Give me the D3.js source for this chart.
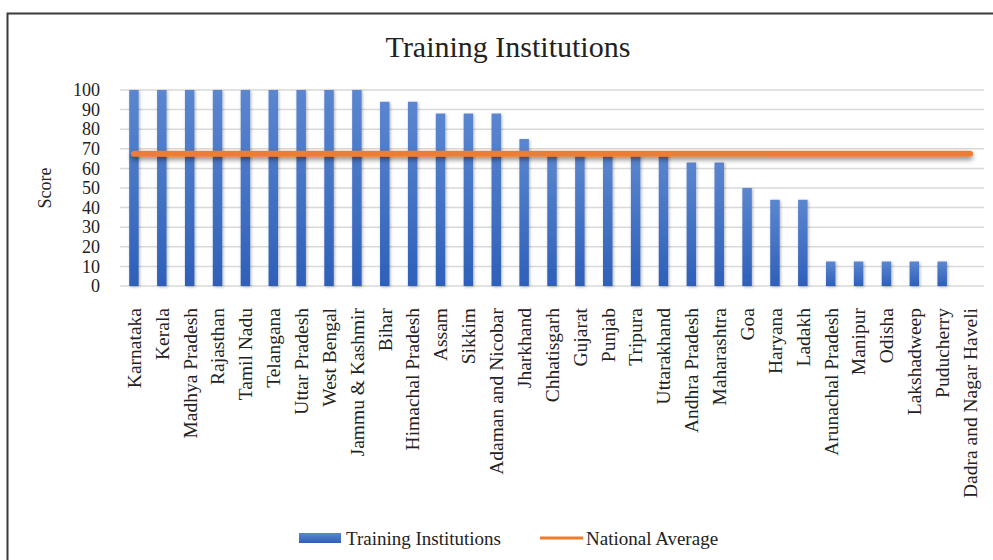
<!DOCTYPE html>
<html>
<head>
  <script src="https://d3js.org/d3.v7.min.js"></script>
  <style>
    body { margin: 0; background: #fff; }
    svg { display: block; font-family: "Liberation Serif", "Times New Roman", serif; }
  </style>
</head>
<body>
  <svg id="chart" width="993" height="560"></svg>
  <script>
  // states / UTs in the order shown
  const states = [
    'Karnataka', 'Kerala', 'Madhya Pradesh', 'Rajasthan', 'Tamil Nadu', 'Telangana',
    'Uttar Pradesh', 'West Bengal', 'Jammu & Kashmir', 'Bihar', 'Himachal Pradesh',
    'Assam', 'Sikkim', 'Adaman and Nicobar', 'Jharkhand', 'Chhatisgarh', 'Gujarat',
    'Punjab', 'Tripura', 'Uttarakhand', 'Andhra Pradesh', 'Maharashtra', 'Goa',
    'Haryana', 'Ladakh', 'Arunachal Pradesh', 'Manipur', 'Odisha', 'Lakshadweep',
    'Puducherry', 'Dadra and Nagar Haveli'
  ];
  const trainingScores = [
    100, 100, 100, 100, 100, 100, 100, 100, 100, 94, 94,
    88, 88, 88, 75, 68, 68, 68, 68, 68, 63, 63, 50,
    44, 44, 12.5, 12.5, 12.5, 12.5, 12.5, 0
  ];
  const nationalAverage = 67.5;
  const yTicks = [0, 10, 20, 30, 40, 50, 60, 70, 80, 90, 100];

  const svg = d3.select('#chart');
  const plot = { left: 120, right: 984, top: 90, bottom: 286 };

  const x = d3.scaleBand()
    .domain(states)
    .range([plot.left, plot.right])
    .paddingInner(0.66)
    .paddingOuter(0.33);
  const y = d3.scaleLinear().domain([0, 100]).range([plot.bottom, plot.top]);

  const defs = svg.append('defs');
  const grad = defs.append('linearGradient')
    .attr('id', 'barGrad').attr('x1', 0).attr('y1', 0).attr('x2', 0).attr('y2', 1);
  grad.append('stop').attr('offset', '0%').attr('stop-color', '#5b86d0');
  grad.append('stop').attr('offset', '100%').attr('stop-color', '#2e60b9');

  const barShadow = defs.append('filter').attr('id', 'barShadow')
    .attr('x', '-50%').attr('y', '-10%').attr('width', '200%').attr('height', '130%');
  barShadow.append('feDropShadow')
    .attr('dx', 1).attr('dy', 1).attr('stdDeviation', 1.5)
    .attr('flood-color', '#000').attr('flood-opacity', 0.3);

  // horizontal path has a zero-height bbox, so give the filter a user-space region
  const lineShadow = defs.append('filter').attr('id', 'lineShadow')
    .attr('filterUnits', 'userSpaceOnUse')
    .attr('x', 0).attr('y', 0).attr('width', 993).attr('height', 560);
  lineShadow.append('feDropShadow')
    .attr('dx', 0).attr('dy', 3).attr('stdDeviation', 2.5)
    .attr('flood-color', '#000').attr('flood-opacity', 0.45);

  // outer frame (right and bottom edges run off the page)
  svg.append('rect')
    .attr('x', 7.5).attr('y', 13.5).attr('width', 1100).attr('height', 700)
    .attr('fill', 'none').attr('stroke', '#3a3a3a').attr('stroke-width', 2);

  // title
  svg.append('text')
    .attr('x', 508).attr('y', 57)
    .attr('text-anchor', 'middle')
    .attr('font-size', 30)
    .attr('fill', '#222')
    .text('Training Institutions');

  // gridlines
  svg.append('g').selectAll('line')
    .data(yTicks)
    .join('line')
    .attr('x1', plot.left).attr('x2', plot.right)
    .attr('y1', d => y(d)).attr('y2', d => y(d))
    .attr('stroke', '#d9d9d9').attr('stroke-width', 1.5);

  // y axis labels
  const yAxis = svg.append('g')
    .attr('transform', `translate(${plot.left - 20},0)`)
    .call(d3.axisLeft(y).tickValues(yTicks).tickSize(0).tickPadding(0));
  yAxis.select('.domain').remove();
  yAxis.selectAll('text')
    .attr('font-family', '"Liberation Serif", serif')
    .attr('font-size', 18)
    .attr('fill', '#222');

  svg.append('text')
    .attr('transform', `translate(51,${(plot.top + plot.bottom) / 2}) rotate(-90)`)
    .attr('text-anchor', 'middle')
    .attr('font-size', 18)
    .attr('fill', '#222')
    .text('Score');

  // bars
  svg.append('g').selectAll('rect')
    .data(states)
    .join('rect')
    .attr('x', d => x(d))
    .attr('width', x.bandwidth())
    .attr('y', (d, i) => y(trainingScores[i]))
    .attr('height', (d, i) => y(0) - y(trainingScores[i]))
    .attr('fill', 'url(#barGrad)')
    .attr('filter', 'url(#barShadow)');

  // national average line
  const avgLine = d3.line()
    .x(d => x(d) + x.bandwidth() / 2)
    .y(() => y(nationalAverage));
  svg.append('path')
    .datum(states)
    .attr('d', avgLine)
    .attr('fill', 'none')
    .attr('stroke', '#ed7d31')
    .attr('stroke-width', 6)
    .attr('stroke-linecap', 'round')
    .attr('filter', 'url(#lineShadow)');

  // x axis labels, rotated
  const xAxis = svg.append('g')
    .attr('transform', `translate(0,${plot.bottom + 22})`)
    .call(d3.axisBottom(x).tickSize(0).tickPadding(0));
  xAxis.select('.domain').remove();
  xAxis.selectAll('text')
    .attr('font-family', '"Liberation Serif", serif')
    .attr('font-size', 19.5)
    .attr('fill', '#222')
    .attr('text-anchor', 'end')
    .attr('dy', '0.35em')
    .attr('transform', 'rotate(-90)');

  // legend
  const legend = svg.append('g').attr('font-size', 19).attr('fill', '#222');
  legend.append('rect')
    .attr('x', 299).attr('y', 533).attr('width', 42).attr('height', 10)
    .attr('fill', 'url(#barGrad)');
  legend.append('text').attr('x', 346).attr('y', 545).text('Training Institutions');
  legend.append('line')
    .attr('x1', 540).attr('x2', 583).attr('y1', 538).attr('y2', 538)
    .attr('stroke', '#ed7d31').attr('stroke-width', 3);
  legend.append('text').attr('x', 586).attr('y', 545).text('National Average');
  </script>
</body>
</html>
